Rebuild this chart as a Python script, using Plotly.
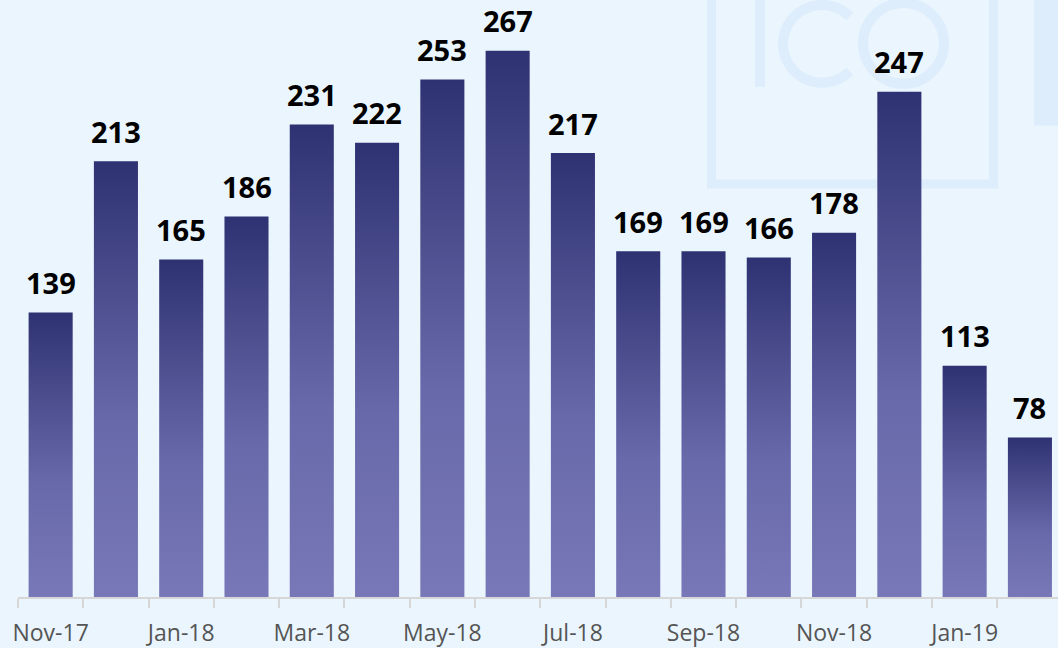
import math
import plotly.graph_objects as go

months = ["Nov-17", "Dec-17", "Jan-18", "Feb-18", "Mar-18", "Apr-18", "May-18", "Jun-18",
          "Jul-18", "Aug-18", "Sep-18", "Oct-18", "Nov-18", "Dec-18", "Jan-19", "Feb-19"]
values = [139, 213, 165, 186, 231, 222, 253, 267, 217, 169, 169, 166, 178, 247, 113, 78]
tick_labels = [m if i % 2 == 0 else "" for i, m in enumerate(months)]

BG = "#EAF5FE"
WM = "#DDEDFC"
BAR_W = 0.675

fig = go.Figure()
for i, v in enumerate(values):
    x0, x1 = i - BAR_W / 2, i + BAR_W / 2
    fig.add_trace(go.Scatter(
        x=[x0, x1, x1, x0, x0], y=[0, 0, v, v, 0],
        mode="lines", fill="toself", line=dict(width=0),
        fillgradient=dict(type="vertical",
                          colorscale=[[0, "#7878B8"], [0.4, "#6869AA"], [1, "#2F3272"]]),
        hoverinfo="skip", showlegend=False))

for i, v in enumerate(values):
    fig.add_annotation(x=i, y=v, text=str(v), showarrow=False, yanchor="middle", yshift=30,
                       font=dict(family="Open Sans", size=29, color="#000000", weight="bold"))

# watermark logo (decorative), pixel -> paper conversion
L, T, PW, PH = 18, 0, 1040, 599
def px(x):
    return (x - L) / PW
def py(y):
    return (PH - y) / PH

shapes = []
shapes.append(dict(type="rect", xref="paper", yref="paper", x0=px(711.5), x1=px(993.5),
                   y0=py(184.5), y1=py(-20), line=dict(color=WM, width=9), layer="below"))
shapes.append(dict(type="rect", xref="paper", yref="paper", x0=px(755), x1=px(765),
                   y0=py(87), y1=py(-20), fillcolor=WM, line=dict(width=0), layer="below"))
shapes.append(dict(type="rect", xref="paper", yref="paper", x0=px(1034), x1=px(1070),
                   y0=py(126), y1=py(-20), fillcolor=WM, line=dict(width=0), layer="below"))
shapes.append(dict(type="circle", xref="paper", yref="paper", x0=px(863), x1=px(944),
                   y0=py(84), y1=py(3), line=dict(color=WM, width=10), layer="below"))
# "C" arc
cx, cy, r = 822, 44, 39
pts = []
for k in range(0, 61):
    a = math.radians(45 + k * (270 / 60))
    pts.append((cx + r * math.cos(a), cy - r * math.sin(a)))
path = "M " + " L ".join(f"{px(x):.5f},{py(y):.5f}" for x, y in pts)
shapes.append(dict(type="path", xref="paper", yref="paper", path=path,
                   line=dict(color=WM, width=10), layer="below"))

fig.update_layout(
    width=1058, height=648,
    margin=dict(l=18, r=0, t=0, b=49),
    paper_bgcolor=BG, plot_bgcolor=BG,
    shapes=shapes,
    xaxis=dict(range=[-0.5, 15.43], tickmode="array", tickvals=list(range(len(months))),
               ticktext=tick_labels, ticks="", showgrid=False, zeroline=False,
               showline=True, linecolor="#D6D6D6", linewidth=2,
               tickfont=dict(family="Open Sans", size=23, color="#555555"),
               ticklabelstandoff=14,
               minor=dict(tickmode="array", tickvals=[i - 0.5 for i in range(len(months) + 1)],
                          ticks="outside", ticklen=9, tickcolor="#D6D6D6", tickwidth=2,
                          showgrid=False)),
    yaxis=dict(range=[0, 291.8], visible=False, showgrid=False, zeroline=False),
)

fig.write_html("out.html", config={"displayModeBar": False},
               post_script="document.body.style.margin='0';document.body.style.background='" + BG + "';")
